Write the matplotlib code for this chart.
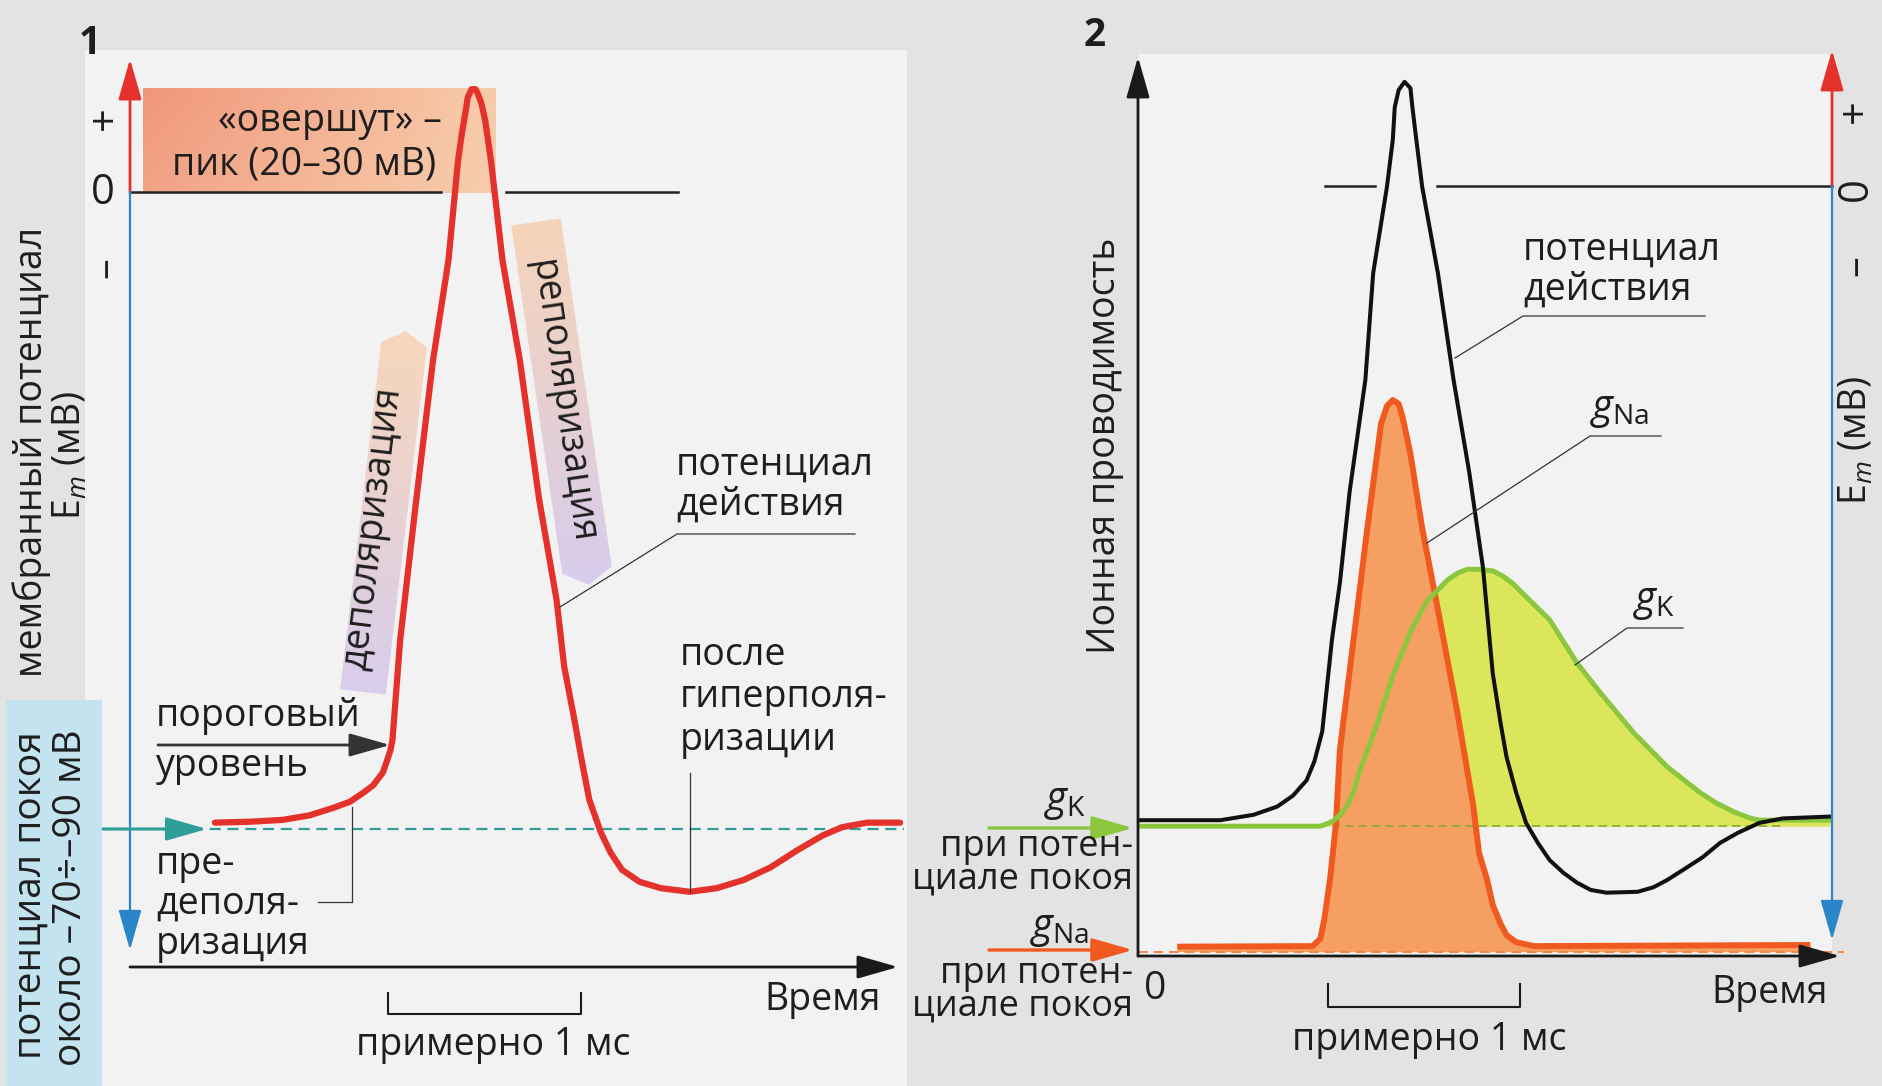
import numpy as np
import matplotlib
matplotlib.use('Agg')
import matplotlib.pyplot as plt
from matplotlib.patches import Polygon, Rectangle

# panel 1 - action potential, time in ms, potential in mV
ap1_t = [0.44, 0.62, 0.79, 0.93, 1.05, 1.14, 1.21, 1.26, 1.31, 1.33, 1.35, 1.36, 1.40, 1.48,
         1.57, 1.65, 1.70, 1.72, 1.74, 1.75, 1.77, 1.79, 1.80, 1.82, 1.84, 1.87, 1.93, 2.02,
         2.12, 2.21, 2.25, 2.30, 2.34, 2.38, 2.44, 2.49, 2.55, 2.64, 2.75, 2.90, 3.04, 3.18,
         3.32, 3.46, 3.59, 3.69, 3.82, 3.99]
ap1_v = [-69.3, -69.2, -69.0, -68.5, -67.7, -67.0, -66.0, -65.2, -63.8, -62.6, -61.3, -60.2, -49.2, -34.4,
         -18.5, -7.5, 3.5, 6.5, 9.0, 10.4, 11.3, 11.3, 10.9, 9.8, 7.9, 3.5, -7.5, -18.5,
         -33.8, -44.8, -52.2, -57.7, -62.4, -66.8, -70.4, -72.6, -74.5, -75.8, -76.5, -76.9, -76.5, -75.6,
         -74.2, -72.3, -70.7, -69.8, -69.3, -69.3]

# panel 2 - action potential (mV) and ionic conductances (arb. units)
ap2_t = [0.01, 0.42, 0.59, 0.71, 0.79, 0.86, 0.90, 0.94, 0.96, 0.99, 1.03, 1.08, 1.16, 1.20,
         1.27, 1.30, 1.31, 1.33, 1.36, 1.39, 1.40, 1.42, 1.45, 1.53, 1.61, 1.69, 1.76, 1.81,
         1.85, 1.88, 1.93, 1.98, 2.04, 2.10, 2.17, 2.24, 2.31, 2.39, 2.55, 2.63, 2.70, 2.78,
         2.88, 2.97, 3.06, 3.17, 3.29, 3.53]
ap2_v = [-70.0, -70.0, -69.4, -68.5, -67.3, -65.6, -63.5, -60.2, -56.1, -50.0, -43.8, -33.7, -21.4, -9.6,
         -0.1, 5.1, 8.7, 10.6, 11.5, 10.8, 8.7, 5.1, -0.1, -9.6, -21.4, -31.6, -42.1, -53.8,
         -59.3, -63.0, -67.0, -70.3, -72.5, -74.4, -75.8, -76.9, -77.7, -78.0, -77.9, -77.4, -76.6, -75.5,
         -74.1, -72.5, -71.4, -70.3, -69.8, -69.6]
gna_t = [0.20, 0.89, 0.93, 0.95, 0.98, 1.01, 1.03, 1.10, 1.17, 1.22, 1.24, 1.27, 1.30, 1.33,
         1.35, 1.39, 1.45, 1.54, 1.63, 1.71, 1.74, 1.78, 1.81, 1.85, 1.88, 1.93, 2.02, 3.43]
gna_g = [1.5, 1.6, 2.9, 6.3, 13.7, 23.6, 36.9, 56.9, 76.9, 90.3, 95.7, 98.9, 100.0, 99.3,
         96.9, 90.3, 76.9, 60.4, 43.6, 27.0, 18.4, 13.7, 9.0, 5.6, 3.6, 2.3, 1.6, 1.8]
gk_t = [0.01, 0.93, 0.99, 1.03, 1.07, 1.10, 1.13, 1.22, 1.30, 1.39, 1.47, 1.58, 1.63, 1.68,
        1.74, 1.81, 1.86, 1.91, 1.95, 2.10, 2.24, 2.36, 2.53, 2.70, 2.87, 2.95, 3.04, 3.12,
        3.17, 3.29, 3.53]
gk_g = [23.2, 23.2, 24.0, 25.2, 27.0, 29.5, 33.0, 41.6, 50.3, 58.2, 63.6, 67.6, 68.8, 69.5,
        69.5, 69.2, 68.3, 67.0, 65.6, 60.4, 52.6, 47.2, 40.0, 33.9, 29.2, 27.4, 25.8, 24.7,
        24.3, 24.3, 24.3]

V_REST = -70.0
GK_REST = 23.2
GNA_REST = 0.6

W, H = 1883, 1086
plt.rcParams['font.family'] = ['Open Sans', 'DejaVu Sans']
plt.rcParams['mathtext.fontset'] = 'custom'
plt.rcParams['mathtext.rm'] = 'Open Sans'
plt.rcParams['mathtext.it'] = 'Open Sans:italic'

fig = plt.figure(figsize=(W / 100, H / 100), dpi=100)
fig.patch.set_facecolor('#e3e3e3')

TXT = '#1e1e1e'
RED = '#e5312b'
BLUE = '#2a86c8'
TEAL = '#2e9e96'
ORANGE = '#f05a1e'
GREEN = '#8cc63e'


def full_axes(xlim, ylim):
    ax = fig.add_axes([0, 0, 1, 1])
    ax.set_xlim(*xlim)
    ax.set_ylim(*ylim)
    ax.axis('off')
    ax.patch.set_visible(False)
    return ax


def mapped_axes(x0, sx, y0, sy):
    # x_pixel = x0 + sx * u ; y_pixel (from top) = y0 - sy * v
    return full_axes((-x0 / sx, (W - x0) / sx), ((y0 - H) / sy, y0 / sy))


def band(ax, top, bot, half, tip, c_top, c_bot, tip_up):
    top, bot = np.array(top, float), np.array(bot, float)
    d = (bot - top) / np.hypot(*(bot - top))
    n = np.array([-d[1], d[0]])
    if tip_up:
        verts = [bot - half * n, top - half * n, top - tip * d, top + half * n, bot + half * n]
    else:
        verts = [top - half * n, bot - half * n, bot + tip * d, bot + half * n, top + half * n]
    poly = Polygon(verts, closed=True, fc='none', ec='none')
    ax.add_patch(poly)
    xs, ys = zip(*verts)
    g = np.linspace(0, 1, 64)[:, None, None]
    img = (1 - g) * np.array(c_top) / 255 + g * np.array(c_bot) / 255
    im = ax.imshow(img, extent=(min(xs), max(xs), max(ys), min(ys)), aspect='auto',
                   interpolation='bilinear', zorder=2)
    im.set_clip_path(poly)


# ---- background layer (pixel coordinates) ----
bg = full_axes((0, W), (H, 0))
bg.add_patch(Rectangle((85, 50), 822, 1036, fc='#f2f2f2', ec='none'))
bg.add_patch(Rectangle((1138, 54), 694, 902, fc='#f2f2f2', ec='none'))
bg.add_patch(Rectangle((6, 700), 96, 386, fc='#c3e3ee', ec='none'))

h = np.linspace(0, 1, 80)[None, :, None]
v = np.linspace(0, 1, 20)[:, None, None]
left_c = np.array([240, 150, 122]) / 255
right_c = np.array([247, 203, 170]) / 255
over = (1 - h) * left_c + h * right_c
over = over * (1 - 0.2 * v) + 0.2 * v * np.array([248, 215, 182]) / 255
bg.imshow(over, extent=(143, 496, 193, 88), aspect='auto', interpolation='bilinear', zorder=2)

band(bg, (404, 345), (363, 692), 23, 14, (247, 214, 186), (216, 205, 236), True)
band(bg, (536, 222), (587, 570), 25, 15, (246, 212, 184), (215, 204, 236), False)
bg.set_xlim(0, W)
bg.set_ylim(H, 0)

# ---- panel 1 data ----
ax1 = mapped_axes(130, 193, 192, 9.1)
ax1.plot([0, 1.61], [0, 0], color='#222222', lw=1.8)
ax1.plot([1.95, 2.84], [0, 0], color='#222222', lw=1.8)
ax1.plot([-0.14, 4.01], [V_REST, V_REST], color=TEAL, lw=1.6, ls=(0, (5, 3)))
ax1.plot(ap1_t, ap1_v, color=RED, lw=4.5, solid_capstyle='round', solid_joinstyle='round')

# ---- panel 2 conductances ----
ax2g = mapped_axes(1138, 196, 955, 5.55)
ax2g.plot([0, 3.6], [GNA_REST, GNA_REST], color='#f0864a', lw=1.4, ls=(0, (5, 3)))
ax2g.fill_between(gk_t, GK_REST, gk_g, color='#dbe65b', lw=0)
ax2g.plot([0.99, 3.30], [GK_REST, GK_REST], color='#8aa830', lw=1.2, ls=(0, (5, 3)))
ax2g.fill_between(gna_t, GNA_REST, gna_g, color='#f5a062', lw=0)
ax2g.plot(gna_t, gna_g, color=ORANGE, lw=4.3, solid_joinstyle='round', solid_capstyle='butt')
ax2g.plot(gk_t, gk_g, color=GREEN, lw=3.6, solid_joinstyle='round')

# ---- panel 2 potential ----
ax2v = mapped_axes(1138, 196, 186, 9.06)
ax2v.plot([0.954, 1.209], [0, 0], color='#222222', lw=1.8)
ax2v.plot([1.526, 3.54], [0, 0], color='#222222', lw=1.8)
ax2v.plot(ap2_t, ap2_v, color='#111111', lw=2.9, solid_joinstyle='round')

# ---- labels, axes and arrows (pixel coordinates) ----
lab = full_axes((0, W), (H, 0))


def arrow(x0, y0, x1, y1, color, lw=2.0):
    lab.annotate('', xy=(x1, y1), xytext=(x0, y0),
                 arrowprops=dict(arrowstyle='-|>,head_length=0.63,head_width=0.18',
                                 color=color, lw=lw, shrinkA=0, shrinkB=0, mutation_scale=40))


def line(pts, lw=0.9, color='#333333'):
    xs, ys = zip(*pts)
    lab.plot(xs, ys, color=color, lw=lw)


def txt(x, y, s, size=27, ha='left', **kw):
    lab.text(x, y, s, fontsize=size, ha=ha, va='center', color=TXT, **kw)


# panel 1 axes
arrow(130, 193, 130, 59, RED, 2.0)
arrow(130, 192, 130, 950, BLUE, 1.6)
arrow(130, 967, 898, 967, '#1a1a1a', 2.0)
arrow(103, 829, 207, 829, TEAL, 2.2)
arrow(158, 745, 390, 745, '#333333', 2.0)

txt(90, 44, '1', size=28, ha='center', fontweight='bold')
txt(106, 118, '+', size=30, ha='center', rotation=90)
txt(103, 193, '0', size=30, ha='center')
txt(106, 268, '–', size=30, ha='center', rotation=90)
txt(330, 121, '«овершут» –', ha='center')
txt(304, 164, 'пик (20–30 мВ)', ha='center')
txt(156, 716, 'пороговый')
txt(156, 766, 'уровень')
txt(156, 864, 'пре-')
txt(156, 904, 'деполя-')
txt(156, 944, 'ризация')
txt(676, 465, 'потенциал')
txt(676, 505, 'действия')
txt(680, 655, 'после')
txt(680, 697, 'гиперполя-')
txt(680, 740, 'ризации')
txt(823, 1000, 'Время', ha='center')
txt(493, 1045, 'примерно 1 мс', ha='center')
txt(32, 452, 'мембранный потенциал', ha='center', rotation=90)
txt(71, 455, 'E$_{m}$ (мВ)', ha='center', rotation=90)
txt(31, 895, 'потенциал покоя', size=28, ha='center', rotation=90)
txt(71, 898, 'около –70÷–90 мВ', size=28, ha='center', rotation=90)
txt(372, 528, 'деполяризация', ha='center', rotation=83.1, rotation_mode='anchor')
txt(562, 402, 'реполяризация', ha='center', rotation=-81.7, rotation_mode='anchor')

line([(855, 534), (677, 534), (560, 607)])
line([(352, 807), (352, 902), (318, 902)])
line([(690, 773), (690, 892)])
line([(388, 993), (388, 1014), (581, 1014), (581, 993)], lw=1.5, color='#1a1a1a')

# panel 2 axes
arrow(1138, 956, 1138, 57, '#1a1a1a', 2.0)
arrow(1138, 956, 1840, 956, '#1a1a1a', 2.0)
arrow(1832, 187, 1832, 50, RED, 2.0)
arrow(1832, 186, 1832, 940, BLUE, 1.6)
arrow(989, 828, 1133, 828, GREEN, 2.4)
arrow(989, 950, 1133, 950, ORANGE, 2.4)

txt(1095, 36, '2', size=28, ha='center', fontweight='bold')
txt(1105, 446, 'Ионная проводимость', ha='center', rotation=90)
txt(1856, 111, '+', size=30, ha='center', rotation=90)
txt(1856, 189, '0', size=30, ha='center', rotation=90)
txt(1856, 266, '–', size=30, ha='center', rotation=90)
txt(1857, 440, 'E$_{m}$ (мВ)', ha='center', rotation=90)
txt(1523, 250, 'потенциал')
txt(1523, 290, 'действия')
txt(1590, 410, '$g_{\\mathrm{Na}}$', size=29)
txt(1633, 602, '$g_{\\mathrm{K}}$', size=29)
txt(1065, 802, '$g_{\\mathrm{K}}$', size=29, ha='center')
txt(1133, 847, 'при потен-', size=26, ha='right')
txt(1133, 880, 'циале покоя', size=26, ha='right')
txt(1060, 929, '$g_{\\mathrm{Na}}$', size=29, ha='center')
txt(1133, 974, 'при потен-', size=26, ha='right')
txt(1133, 1007, 'циале покоя', size=26, ha='right')
txt(1155, 989, '0', size=28, ha='center')
txt(1770, 993, 'Время', ha='center')
txt(1429, 1040, 'примерно 1 мс', ha='center')

line([(1705, 316), (1523, 316), (1455, 358)])
line([(1661, 436), (1590, 436), (1427, 543)])
line([(1683, 628), (1627, 628), (1575, 665)])
line([(1328, 984), (1328, 1007), (1520, 1007), (1520, 984)], lw=1.5, color='#1a1a1a')

fig.savefig('out.png', dpi=100, facecolor=fig.get_facecolor())
